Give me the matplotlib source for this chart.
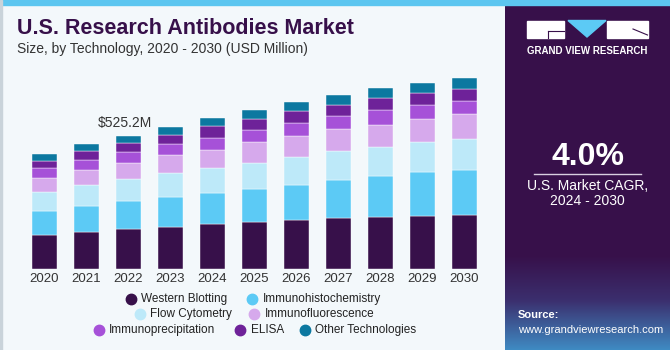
import matplotlib
matplotlib.use('Agg')
import matplotlib.pyplot as plt
from matplotlib.lines import Line2D
from matplotlib.patches import Rectangle, Polygon
import numpy as np

plt.rcParams['font.family'] = ['Liberation Sans', 'DejaVu Sans']

# data (USD million)
years = ['2020', '2021', '2022', '2023', '2024', '2025', '2026', '2027', '2028', '2029', '2030']
western_blotting = [135, 147, 159, 167, 177, 186, 194, 201, 206, 210, 211]
immunohistochemistry = [95, 101, 109, 118, 121, 131, 139, 151, 161, 171, 181]
flow_cytometry = [75, 83, 87, 95, 101, 102, 109, 113, 115, 118, 122]
immunofluorescence = [52, 59, 64, 68, 70, 80, 83, 85, 87, 93, 95]
immunoprecipitation = [42, 39, 43, 46, 49, 50, 52, 52, 56, 53, 55]
elisa = [28, 35, 36, 36, 44, 43, 45, 46, 49, 48, 47]
other_tech = [26, 30, 28, 30, 32, 33, 35, 38, 38, 39, 42]

series_names = ['Western Blotting', 'Immunohistochemistry', 'Flow Cytometry', 'Immunofluorescence',
                'Immunoprecipitation', 'ELISA', 'Other Technologies']
series_vals = [western_blotting, immunohistochemistry, flow_cytometry, immunofluorescence,
               immunoprecipitation, elisa, other_tech]
colors = ['#37104a', '#5ccaf5', '#bde9f9', '#d6a9ec', '#a651d8', '#6e2299', '#0c78a0']

callout_year = '2022'
callout_text = '$525.2M'

bg = '#f3f8fb'
purple = '#37104a'

fig = plt.figure(figsize=(6.7, 3.5), dpi=100)
fig.patch.set_facecolor(bg)

# top strip and left border
fig.patches.append(Rectangle((0, 1 - 5 / 350), 1, 5 / 350, transform=fig.transFigure,
                             color='#5cc6f0', zorder=0))
fig.patches.append(Rectangle((0, 0), 1.5 / 670, 1, transform=fig.transFigure,
                             color='#c9d3da', zorder=0))

# bar chart
ax = fig.add_axes([19.3 / 670, 0.2314, 470.4 / 670, 0.580])
ax.set_facecolor(bg)
x = np.arange(len(years))
bottom = np.zeros(len(years))
for name, vals, c in zip(series_names, series_vals, colors):
    ax.bar(x, vals, 0.58, bottom=bottom, color=c, edgecolor='#ffffff', linewidth=0.3, label=name)
    bottom += np.array(vals)

ax.set_xlim(-0.6, 10.6)
ax.set_ylim(0, 800)
ax.set_xticks(x)
ax.set_xticklabels(years, fontsize=9.5, color='#333333')
ax.tick_params(axis='x', length=0, pad=3)
ax.set_yticks([])
for s in ax.spines.values():
    s.set_visible(False)

i = years.index(callout_year)
ax.text(x[i] - 0.08, bottom[i] + 22, callout_text, ha='center', va='bottom', fontsize=10, color='#333333')

# title
fig.text(17 / 670, 1 - 29 / 350, 'U.S. Research Antibodies Market', fontsize=15.5, fontweight='bold',
         color=purple, va='center', ha='left')
fig.text(17 / 670, 1 - 49 / 350, 'Size, by Technology, 2020 - 2030 (USD Million)', fontsize=10,
         color='#333333', va='center', ha='left')

# legend, three centred rows
rows = [[(131, 141, 0), (252, 263, 1)],
        [(140, 150, 2), (254, 265, 3)],
        [(99, 109, 4), (240, 251, 5), (305, 315, 6)]]
row_y = [299, 314, 330]
for row, yy in zip(rows, row_y):
    for mx, tx, k in row:
        fig.add_artist(Line2D([mx / 670], [1 - yy / 350], marker='o', markersize=7.5, color=colors[k],
                              linestyle='none', transform=fig.transFigure))
        fig.text(tx / 670, 1 - yy / 350, series_names[k], fontsize=8.5, color='#222222', va='center', ha='left')

# right panel
pax = fig.add_axes([505 / 670, 0, 165 / 670, 1])
pax.set_xlim(0, 165)
pax.set_ylim(350, 0)
pax.axis('off')
grad = np.zeros((350, 1, 3))
top_c = np.array([0x37, 0x10, 0x4a]) / 255
mid_c = np.array([0x3b, 0x2f, 0x6e]) / 255
bot_c = np.array([0x3f, 0x8c, 0xc4]) / 255
for r in range(350):
    if r < 255:
        grad[r, 0] = top_c
    elif r < 300:
        t = (r - 255) / 45
        grad[r, 0] = top_c * (1 - t) + mid_c * t
    else:
        t = (r - 300) / 50
        grad[r, 0] = mid_c * (1 - t) + bot_c * t
pax.imshow(grad, extent=[0, 165, 350, 0], aspect='auto', zorder=0)

# logo
pax.add_patch(Rectangle((22, 20.5), 36.5, 17, color='white'))
pax.add_patch(Rectangle((102, 20.5), 40.5, 17, color='white'))
pax.add_patch(Polygon([[63, 20.5], [101, 20.5], [82, 37]], closed=True, color='#5ccaf5'))
pax.plot([43, 58.5], [31, 31], color=purple, lw=0.8)
pax.plot([43, 43], [31, 37.5], color=purple, lw=0.8)
pax.plot([128, 142.5], [29, 35], color=purple, lw=0.8)
pax.text(82, 50.5, 'GRAND VIEW RESEARCH', color='white', fontsize=7, fontweight='bold',
         ha='center', va='center')

pax.text(82.5, 157, '4.0%', color='white', fontsize=23, fontweight='bold', ha='center', va='center')
pax.plot([29, 136], [173.5, 173.5], color='#d8cfe0', lw=1)
pax.text(82.5, 186, 'U.S. Market CAGR,', color='white', fontsize=10, ha='center', va='center')
pax.text(82.5, 201, '2024 - 2030', color='white', fontsize=10, ha='center', va='center')

pax.text(13, 315, 'Source:', color='white', fontsize=8, fontweight='bold', ha='left', va='center')
pax.text(13, 330, 'www.grandviewresearch.com', color='white', fontsize=8, ha='left', va='center')

fig.savefig('out.png', dpi=100, facecolor=fig.get_facecolor())
